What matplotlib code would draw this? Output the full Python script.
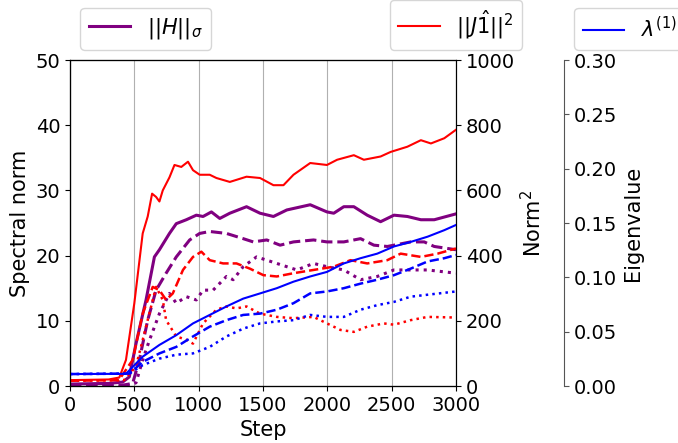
import matplotlib
matplotlib.use("Agg")
import matplotlib.pyplot as plt

plt.rcParams['font.size'] = 15
plt.rcParams['xtick.labelsize'] = 14
plt.rcParams['ytick.labelsize'] = 14

# ---- data ----
# Spectral norm ||H||_sigma (left axis)
h_solid_x = [0, 300, 409, 461, 513, 591, 656, 695, 773, 826, 904, 982, 1034, 1099, 1164, 1242, 1372, 1477, 1581, 1685, 1867, 1997, 2050, 2128, 2206, 2310, 2414, 2518, 2622, 2727, 2831, 3000]
h_solid_y = [0.3, 0.4, 0.6, 1.4, 6.5, 13.2, 19.8, 20.9, 23.4, 24.9, 25.5, 26.2, 26.0, 26.7, 25.7, 26.5, 27.5, 26.5, 26.0, 27.0, 27.8, 26.7, 26.5, 27.5, 27.5, 26.2, 25.2, 26.2, 26.0, 25.5, 25.5, 26.4]
h_dash_x = [0, 400, 487, 539, 604, 669, 747, 826, 930, 1008, 1086, 1216, 1346, 1424, 1529, 1633, 1737, 1893, 1997, 2128, 2258, 2362, 2466, 2648, 2753, 2831, 3000]
h_dash_y = [0.1, 0.1, 0.4, 4.0, 10.1, 14.7, 17.3, 19.8, 22.4, 23.4, 23.7, 23.4, 22.6, 22.1, 22.4, 21.6, 22.1, 22.4, 22.1, 22.1, 22.6, 21.6, 21.4, 22.1, 22.1, 21.4, 20.9]
h_dot_x = [0, 450, 513, 565, 617, 695, 773, 826, 904, 982, 1034, 1112, 1216, 1268, 1346, 1450, 1529, 1685, 1763, 1893, 1997, 2128, 2258, 2388, 2518, 2648, 2779, 3000]
h_dot_y = [0.0, 0.0, 0.5, 4.0, 7.0, 11.1, 14.2, 12.7, 13.7, 13.2, 14.7, 14.7, 16.8, 16.3, 18.3, 19.8, 19.3, 18.3, 17.8, 18.8, 18.3, 17.8, 16.3, 16.8, 17.8, 17.8, 17.8, 17.3]

# ||J 1hat||^2 (right axis, Norm^2)
j_solid_x = [0, 300, 383, 435, 500, 565, 604, 638, 669, 695, 721, 773, 812, 865, 917, 956, 1008, 1086, 1138, 1242, 1372, 1477, 1581, 1659, 1737, 1867, 1997, 2076, 2206, 2284, 2414, 2492, 2622, 2727, 2805, 2909, 3000]
j_solid_y = [18, 20, 26, 80, 254, 468, 520, 590, 580, 566, 600, 640, 678, 672, 688, 662, 648, 648, 638, 626, 642, 638, 616, 616, 648, 684, 678, 694, 708, 694, 704, 718, 734, 754, 744, 760, 786]
j_dash_x = [0, 380, 487, 565, 643, 695, 747, 799, 878, 956, 1021, 1086, 1190, 1294, 1398, 1503, 1607, 1737, 1893, 2050, 2180, 2310, 2466, 2570, 2727, 2857, 3000]
j_dash_y = [16, 18, 80, 222, 304, 294, 264, 284, 356, 396, 412, 386, 376, 376, 360, 340, 336, 346, 356, 366, 386, 376, 386, 406, 396, 406, 422]
j_dot_x = [0, 420, 513, 591, 669, 721, 747, 826, 904, 956, 1034, 1138, 1216, 1294, 1372, 1477, 1607, 1737, 1893, 1997, 2102, 2206, 2310, 2440, 2518, 2648, 2779, 3000]
j_dot_y = [16, 18, 60, 182, 304, 264, 202, 152, 142, 130, 192, 234, 244, 238, 244, 222, 212, 208, 212, 192, 172, 166, 182, 192, 188, 202, 212, 210]

# lambda^(1) (third axis, Eigenvalue)
l_solid_x = [0, 435, 565, 695, 826, 956, 1086, 1216, 1346, 1477, 1607, 1737, 1867, 1997, 2128, 2258, 2388, 2518, 2648, 2779, 2909, 3000]
l_solid_y = [0.0110, 0.0112, 0.0270, 0.0378, 0.0468, 0.0576, 0.0654, 0.0732, 0.0804, 0.0852, 0.0900, 0.0960, 0.1008, 0.1050, 0.1128, 0.1176, 0.1218, 0.1284, 0.1326, 0.1374, 0.1434, 0.1482]
l_dash_x = [0, 461, 565, 695, 826, 956, 1086, 1216, 1346, 1477, 1607, 1737, 1867, 1997, 2128, 2258, 2388, 2518, 2648, 2779, 2909, 3000]
l_dash_y = [0.0110, 0.0114, 0.0222, 0.0300, 0.0360, 0.0456, 0.0546, 0.0606, 0.0654, 0.0666, 0.0702, 0.0762, 0.0852, 0.0870, 0.0900, 0.0942, 0.0978, 0.1020, 0.1080, 0.1146, 0.1176, 0.1206]
l_dot_x = [0, 461, 565, 695, 826, 956, 1086, 1216, 1346, 1477, 1607, 1737, 1867, 1997, 2128, 2258, 2388, 2518, 2648, 2779, 3000]
l_dot_y = [0.0110, 0.0114, 0.0192, 0.0252, 0.0288, 0.0300, 0.0360, 0.0456, 0.0528, 0.0576, 0.0594, 0.0606, 0.0654, 0.0636, 0.0636, 0.0702, 0.0744, 0.0774, 0.0822, 0.0840, 0.0870]

x_ticks = [0, 500, 1000, 1500, 2000, 2500, 3000]

fig = plt.figure(figsize=(6.78, 4.43), dpi=100)
ax = fig.add_axes([70/678, 57/443, 386/678, 326/443])
ax2 = ax.twinx()
ax3 = ax.twinx()
ax3.spines['right'].set_position(('axes', 1.28))

ax.plot(h_solid_x, h_solid_y, color='purple', lw=2.2, ls='-', label=r'$||H||_\sigma$')
ax.plot(h_dash_x, h_dash_y, color='purple', lw=2.2, ls='--')
ax.plot(h_dot_x, h_dot_y, color='purple', lw=2.2, ls=':')

ax2.plot(j_solid_x, j_solid_y, color='red', lw=1.5, ls='-', label=r'$||J\hat{1}||^2$')
ax2.plot(j_dash_x, j_dash_y, color='red', lw=1.8, ls='--')
ax2.plot(j_dot_x, j_dot_y, color='red', lw=1.8, ls=':')

ax3.plot(l_solid_x, l_solid_y, color='blue', lw=1.5, ls='-', label=r'$\lambda^{(1)}$')
ax3.plot(l_dash_x, l_dash_y, color='blue', lw=1.8, ls='--')
ax3.plot(l_dot_x, l_dot_y, color='blue', lw=1.8, ls=':')

ax.set_xlim(0, 3000)
ax.set_ylim(0, 50)
ax2.set_ylim(0, 1000)
ax3.set_ylim(0, 0.30)
ax.set_xticks(x_ticks)
ax.grid(axis='x', color='#b0b0b0')
ax.set_xlabel('Step')
ax.set_ylabel('Spectral norm')
ax2.set_ylabel('Norm$^2$')
ax3.set_ylabel('Eigenvalue')

ax3.spines['right'].set_color('#555555')
ax3.tick_params(axis='y', color='#555555')

ax.legend(loc='lower left', bbox_to_anchor=(0, 1))
ax2.legend(loc='lower center', bbox_to_anchor=(1, 1))
ax3.legend(loc='lower left', bbox_to_anchor=(1.28, 1))

fig.savefig('out.png', dpi=100)
